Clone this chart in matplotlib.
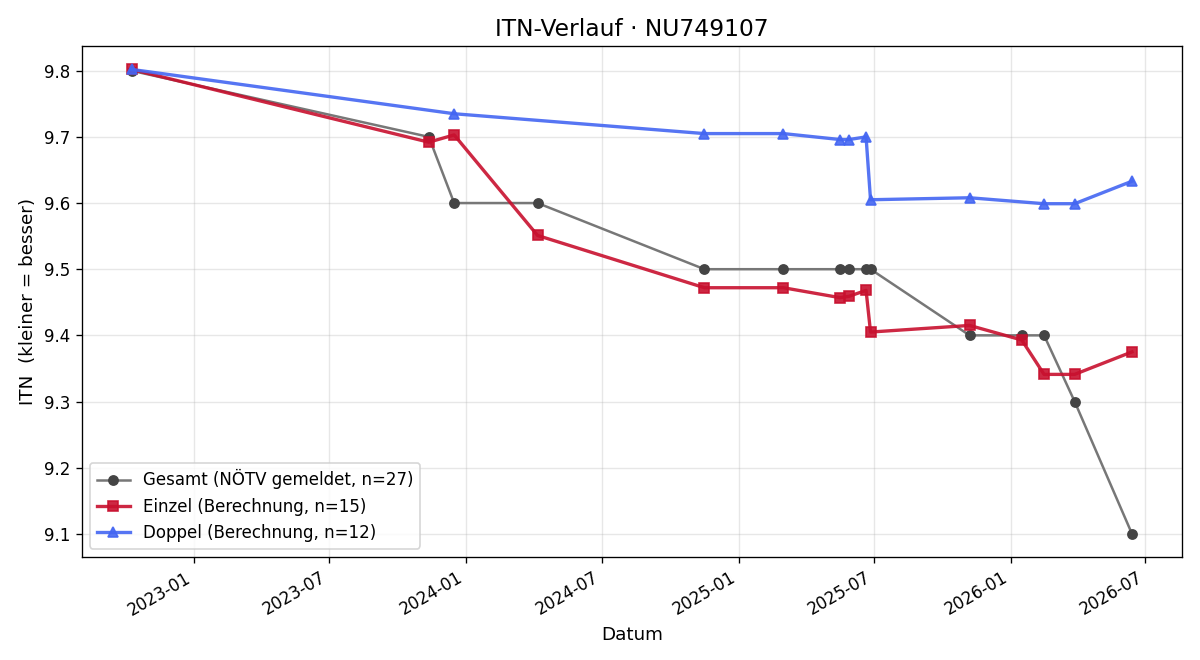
import matplotlib
matplotlib.use("Agg")
import matplotlib.pyplot as plt
import matplotlib.dates as mdates
import pandas as pd

gesamt_dates = ["2022-10-09", "2023-11-12", "2023-12-16", "2024-04-06", "2024-11-16",
                "2025-03-02", "2025-05-17", "2025-05-29", "2025-06-21", "2025-06-27",
                "2025-11-07", "2026-01-16", "2026-02-15", "2026-03-28", "2026-06-13"]
gesamt_vals = [9.8, 9.7, 9.6, 9.6, 9.5, 9.5, 9.5, 9.5, 9.5, 9.5, 9.4, 9.4, 9.4, 9.3, 9.1]

einzel_dates = ["2022-10-09", "2023-11-12", "2023-12-16", "2024-04-06", "2024-11-16",
                "2025-03-02", "2025-05-17", "2025-05-29", "2025-06-21", "2025-06-27",
                "2025-11-07", "2026-01-16", "2026-02-15", "2026-03-28", "2026-06-13"]
einzel_vals = [9.802, 9.692, 9.703, 9.551, 9.472, 9.472, 9.457, 9.459, 9.468, 9.405,
               9.415, 9.393, 9.341, 9.341, 9.375]

doppel_dates = ["2022-10-09", "2023-12-16", "2024-11-16", "2025-03-02", "2025-05-17",
                "2025-05-29", "2025-06-21", "2025-06-27", "2025-11-07", "2026-02-15",
                "2026-03-28", "2026-06-13"]
doppel_vals = [9.802, 9.735, 9.705, 9.705, 9.696, 9.696, 9.700, 9.605, 9.608, 9.599,
               9.599, 9.633]

labels = ["Gesamt (NÖTV gemeldet, n=27)", "Einzel (Berechnung, n=15)",
          "Doppel (Berechnung, n=12)"]

fig, ax = plt.subplots(figsize=(10, 5.5), dpi=120)

ax.plot(pd.to_datetime(gesamt_dates), gesamt_vals, color="#777777", lw=1.5,
        marker="o", ms=5.5, markerfacecolor="#444444", markeredgecolor="#444444",
        label=labels[0])
ax.plot(pd.to_datetime(einzel_dates), einzel_vals, color="#C8102E", lw=2, alpha=0.9,
        marker="s", ms=6.5, label=labels[1])
ax.plot(pd.to_datetime(doppel_dates), doppel_vals, color="#4466F2", lw=2, alpha=0.9,
        marker="^", ms=6.5, label=labels[2])

ax.set_title("ITN-Verlauf · NU749107", fontsize=14)
ax.set_xlabel("Datum", fontsize=11)
ax.set_ylabel("ITN  (kleiner = besser)", fontsize=11)
ax.grid(True, alpha=0.3)
ax.xaxis.set_major_locator(mdates.MonthLocator(bymonth=[1, 7]))
ax.xaxis.set_major_formatter(mdates.DateFormatter("%Y-%m"))
ax.legend(loc="lower left", fontsize=10)
fig.autofmt_xdate()
fig.subplots_adjust(left=0.068, right=0.985, top=0.93, bottom=0.156)
fig.savefig("out.png", dpi=120)
